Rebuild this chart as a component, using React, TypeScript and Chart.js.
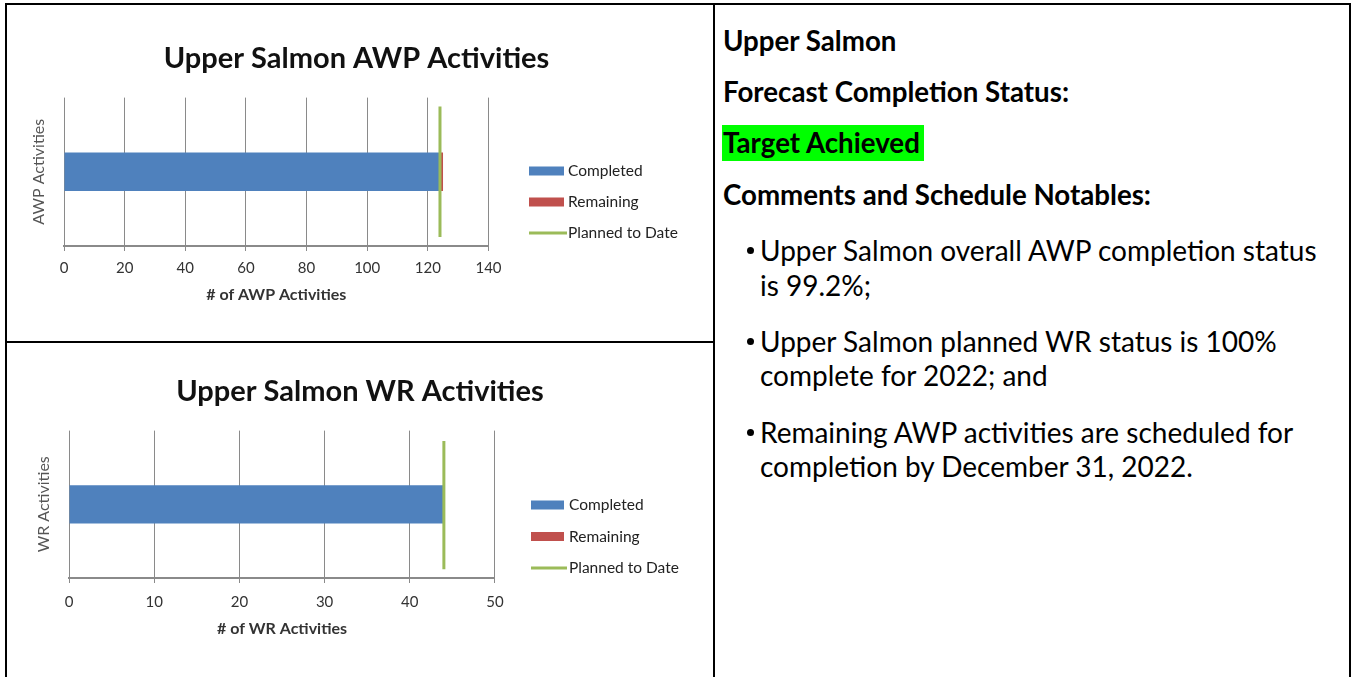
import React, { useEffect, useRef } from "react";
import { Chart, registerables } from "chart.js";

Chart.register(...registerables);

// ---------- data ----------
const awpCategories = ["AWP Activities"];
const awpCompleted = [124];
const awpRemaining = [1];
const awpPlanned = [124];
const awpTicks = [0, 20, 40, 60, 80, 100, 120, 140];

const wrCategories = ["WR Activities"];
const wrCompleted = [44];
const wrRemaining = [0];
const wrPlanned = [44];
const wrTicks = [0, 10, 20, 30, 40, 50];

const seriesLabels = ["Completed", "Remaining", "Planned to Date"];
const seriesColors = ["#4F81BD", "#C0504D", "#9BBB59"];

const headingLines = ["Upper Salmon", "Forecast Completion Status:"];
const statusText = "Target Achieved";
const notablesHeading = "Comments and Schedule Notables:";
const bulletItems = [
  ["Upper Salmon overall AWP completion status", "is 99.2%;"],
  ["Upper Salmon planned WR status is 100%", "complete for 2022; and"],
  ["Remaining AWP activities are scheduled for", "completion by December 31, 2022."],
];

const FONT = "Lato, 'Open Sans', 'DejaVu Sans', sans-serif";

// ---------- legend plugin ----------
const sideLegend = {
  id: "sideLegend",
  afterDraw(chart: any, _args: any, opts: any) {
    const { ctx } = chart;
    ctx.save();
    chart.data.datasets.forEach((ds: any, i: number) => {
      const cy = opts.top + i * opts.spacing;
      const color = ds.kind === "line" ? ds.borderColor : ds.backgroundColor;
      if (ds.kind === "line") {
        ctx.strokeStyle = color;
        ctx.lineWidth = 3;
        ctx.beginPath();
        ctx.moveTo(opts.x, cy);
        ctx.lineTo(opts.x + opts.lineW, cy);
        ctx.stroke();
      } else {
        ctx.fillStyle = color;
        ctx.fillRect(opts.x, cy - opts.boxH / 2, opts.boxW, opts.boxH);
      }
      ctx.fillStyle = "#222";
      ctx.font = `${opts.fontSize}px ${FONT}`;
      ctx.textBaseline = "middle";
      ctx.textAlign = "left";
      ctx.fillText(ds.label, opts.x + opts.textOffset, cy);
    });
    ctx.restore();
  },
};

type Cfg = {
  left: number;
  top: number;
  w: number;
  h: number;
  title: string;
  xTitle: string;
  categories: string[];
  completed: number[];
  remaining: number[];
  planned: number[];
  ticks: number[];
  pad: { left: number; right: number; bottom: number };
  titlePad: { top: number; bottom: number };
  yW: number;
  y2W: number;
  xH: number;
  tickPad: number;
  lineSpan: [number, number];
  legend: any;
};

function buildConfig(c: Cfg): any {
  const barCommon = {
    borderWidth: 0,
    order: 2,
    stack: "s",
    grouped: false,
    barPercentage: 0.26,
    categoryPercentage: 1,
  };
  return {
    type: "bar",
    data: {
      labels: c.categories,
      datasets: [
        {
          ...barCommon,
          label: seriesLabels[0],
          kind: "bar",
          data: c.completed,
          backgroundColor: seriesColors[0],
        },
        {
          ...barCommon,
          label: seriesLabels[1],
          kind: "bar",
          data: c.remaining,
          backgroundColor: seriesColors[1],
        },
        {
          label: seriesLabels[2],
          kind: "line",
          type: "line",
          xAxisID: "x",
          yAxisID: "y2",
          data: [
            { x: c.planned[0], y: c.lineSpan[0] },
            { x: c.planned[0], y: c.lineSpan[1] },
          ],
          borderColor: seriesColors[2],
          backgroundColor: seriesColors[2],
          borderWidth: 3,
          pointRadius: 0,
          fill: false,
          order: 0,
        },
      ],
    },
    options: {
      indexAxis: "y",
      responsive: false,
      animation: false,
      devicePixelRatio: 1,
      layout: { padding: { left: c.pad.left, right: c.pad.right, top: 0, bottom: c.pad.bottom } },
      scales: {
        x: {
          type: "linear",
          stacked: true,
          offset: false,
          min: c.ticks[0],
          max: c.ticks[c.ticks.length - 1],
          afterBuildTicks: (s: any) => {
            s.ticks = c.ticks.map((v) => ({ value: v }));
          },
          grid: { color: "#8a8a8a", lineWidth: 1, tickLength: 5, drawTicks: true },
          border: { display: true, color: "#8a8a8a", width: 2 },
          ticks: { padding: c.tickPad, color: "#333", font: { family: FONT, size: 15 } },
          title: {
            display: true,
            text: c.xTitle,
            padding: 0,
            color: "#333",
            font: { family: FONT, size: 16, weight: "bold" },
          },
          afterFit: (s: any) => {
            s.height = c.xH;
          },
        },
        y: {
          type: "category",
          stacked: true,
          position: "left",
          min: 0,
          max: 0,
          offset: true,
          grid: { display: false },
          border: { display: false },
          ticks: { display: false },
          title: {
            display: true,
            text: c.categories[0],
            padding: 0,
            color: "#555",
            font: { family: FONT, size: 16 },
          },
          afterFit: (s: any) => {
            s.width = c.yW;
          },
        },
        y2: {
          type: "linear",
          position: "right",
          min: 0,
          max: 1,
          offset: false,
          grace: 0,
          grid: { display: false, offset: false },
          border: { display: false },
          ticks: { display: false },
          afterFit: (s: any) => {
            s.width = c.y2W;
          },
        },
      },
      plugins: {
        legend: { display: false },
        tooltip: { enabled: false },
        title: {
          display: true,
          text: c.title,
          color: "#111",
          font: { family: FONT, size: 29, weight: "bold" },
          padding: { top: c.titlePad.top, bottom: c.titlePad.bottom },
        },
        sideLegend: c.legend,
      },
    },
    plugins: [sideLegend],
  };
}

function BarChart({ cfg }: { cfg: Cfg }) {
  const ref = useRef<HTMLCanvasElement>(null);
  useEffect(() => {
    const chart = new Chart(ref.current as HTMLCanvasElement, buildConfig(cfg));
    return () => chart.destroy();
  }, []);
  return (
    <canvas
      ref={ref}
      width={cfg.w}
      height={cfg.h}
      style={{ position: "absolute", left: cfg.left, top: cfg.top, width: cfg.w, height: cfg.h }}
    />
  );
}

const topCfg: Cfg = {
  left: 7,
  top: 5,
  w: 706,
  h: 336,
  title: "Upper Salmon AWP Activities",
  xTitle: "# of AWP Activities",
  categories: awpCategories,
  completed: awpCompleted,
  remaining: awpRemaining,
  planned: awpPlanned,
  ticks: awpTicks,
  pad: { left: 22.7, right: 29.7, bottom: 36.7 },
  titlePad: { top: 36.6, bottom: 21.2 },
  yW: 57 - 22.7,
  y2W: 706 - 29.7 - 481.5,
  xH: 336 - 36.7 - 241,
  tickPad: 8,
  lineSpan: [0.06, 0.94],
  legend: { x: 522, top: 166, spacing: 31, boxW: 35, boxH: 9, lineW: 38, textOffset: 39, fontSize: 15.5 },
};

const botCfg: Cfg = {
  left: 7,
  top: 343,
  w: 706,
  h: 334,
  title: "Upper Salmon WR Activities",
  xTitle: "# of WR Activities",
  categories: wrCategories,
  completed: wrCompleted,
  remaining: wrRemaining,
  planned: wrPlanned,
  ticks: wrTicks,
  pad: { left: 27.3, right: 27.3, bottom: 38.7 },
  titlePad: { top: 31.6, bottom: 21.2 },
  yW: 62 - 27.3,
  y2W: 706 - 27.3 - 488,
  xH: 334 - 38.7 - 235,
  tickPad: 10,
  lineSpan: [0.06, 0.93],
  legend: { x: 524, top: 162, spacing: 31.5, boxW: 33, boxH: 9, lineW: 36, textOffset: 38, fontSize: 15.5 },
};

const B = "#000";
const HEAD_SIZE = 27.7;

function Line({ y, text, bold, left = 723 }: { y: number; text: string; bold?: boolean; left?: number }) {
  const lh = 34;
  return (
    <div
      style={{
        position: "absolute",
        left,
        top: y - lh / 2,
        lineHeight: lh + "px",
        height: lh,
        fontSize: bold ? HEAD_SIZE : 28,
        fontWeight: bold ? 700 : 400,
        whiteSpace: "nowrap",
        color: "#000",
      }}
    >
      {text}
    </div>
  );
}

export default function App() {
  const bulletYs = [
    [250, 285],
    [341, 375],
    [432, 466],
  ];
  return (
    <div
      style={{
        position: "absolute",
        left: 0,
        top: 0,
        width: 1351,
        height: 677,
        overflow: "hidden",
        background: "#fff",
        fontFamily: FONT,
      }}
    >
      {/* table borders */}
      <div style={{ position: "absolute", left: 5, top: 3, width: 1346, height: 2, background: B }} />
      <div style={{ position: "absolute", left: 5, top: 3, width: 2, height: 674, background: B }} />
      <div style={{ position: "absolute", left: 1349, top: 3, width: 2, height: 674, background: B }} />
      <div style={{ position: "absolute", left: 713, top: 3, width: 2, height: 674, background: B }} />
      <div style={{ position: "absolute", left: 5, top: 341, width: 710, height: 2, background: B }} />

      <BarChart cfg={topCfg} />
      <BarChart cfg={botCfg} />

      <Line y={41} text={headingLines[0]} bold />
      <Line y={92} text={headingLines[1]} bold />
      <div
        style={{
          position: "absolute",
          left: 722,
          top: 125,
          height: 36,
          lineHeight: "36px",
          fontSize: HEAD_SIZE,
          fontWeight: 700,
          background: "#00FF00",
          paddingRight: 4,
          paddingLeft: 1,
          whiteSpace: "nowrap",
        }}
      >
        {statusText}
      </div>
      <Line y={195} text={notablesHeading} bold />

      {bulletItems.map((lines, i) => (
        <React.Fragment key={i}>
          <div
            style={{
              position: "absolute",
              left: 747,
              top: bulletYs[i][0] - 3,
              width: 7,
              height: 7,
              borderRadius: 4,
              background: "#000",
            }}
          />
          {lines.map((t, j) => (
            <Line key={j} y={bulletYs[i][j]} text={t} left={760} />
          ))}
        </React.Fragment>
      ))}
    </div>
  );
}
